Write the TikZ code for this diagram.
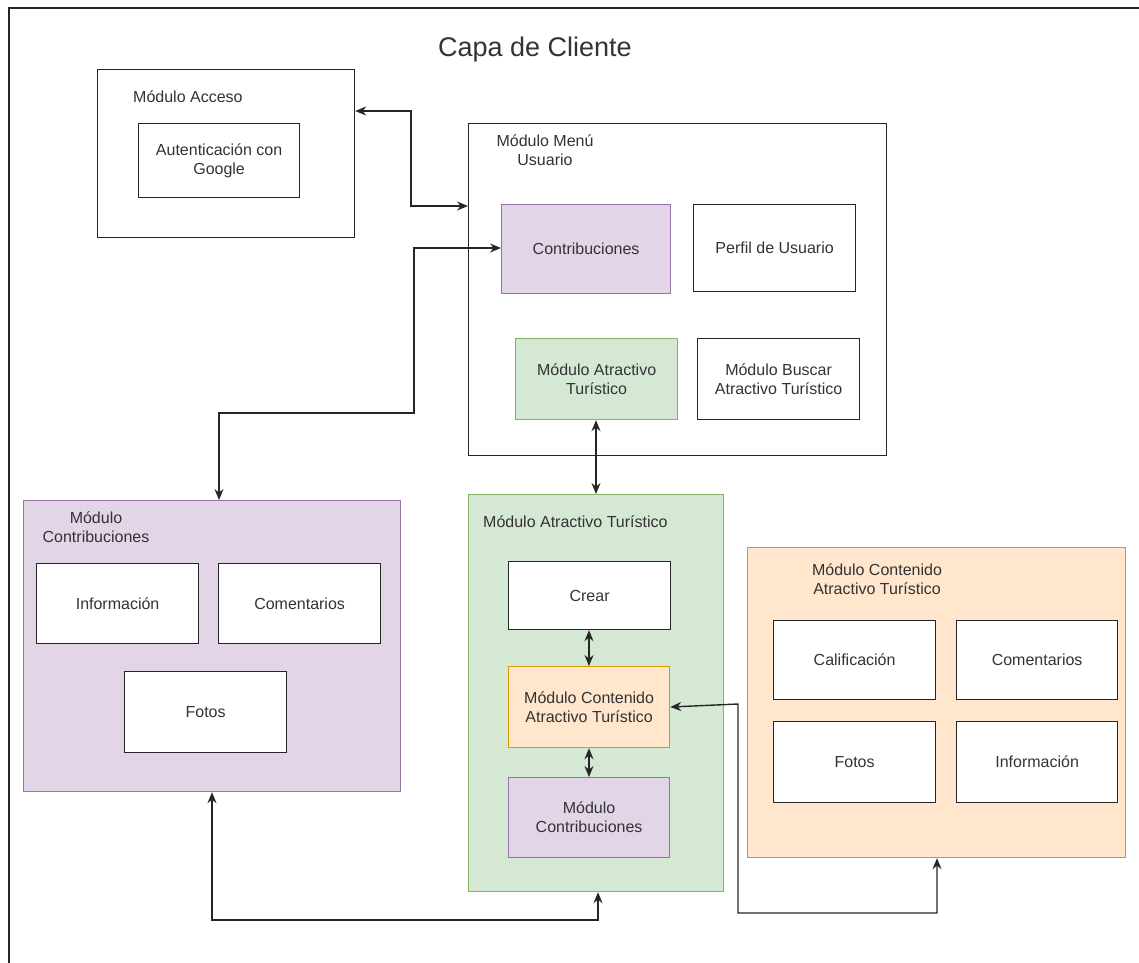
\documentclass[tikz,border=0pt]{standalone}
\usepackage{fontspec}
\setmainfont{Liberation Sans}
\usetikzlibrary{arrows.meta,positioning,calc}

\definecolor{txt}{HTML}{333333}
\definecolor{purfill}{HTML}{E1D5E7}
\definecolor{purline}{HTML}{9673A6}
\definecolor{grnfill}{HTML}{D5E8D4}
\definecolor{grnline}{HTML}{82B366}
\definecolor{orgfill}{HTML}{FFE6CC}
\definecolor{orgline}{HTML}{D79B00}

\tikzset{
  box/.style={draw=black!85, line width=1.2pt, fill=white, rectangle, inner sep=0pt,
    anchor=north west, align=center, text=txt,
    font=\fontsize{16}{19}\selectfont},
  purbox/.style={box, fill=purfill, draw=purline},
  grnbox/.style={box, fill=grnfill, draw=grnline},
  orgbox/.style={box, fill=orgfill, draw=orgline},
  wh/.style 2 args={minimum width=#1pt, minimum height=#2pt},
  lbl/.style={text=txt, inner sep=0pt, align=center, font=\fontsize{16}{19}\selectfont},
  link/.style={draw=black!85, line width=1.4pt,
    {Stealth[length=11pt,width=9pt]}-{Stealth[length=11pt,width=9pt]}},
}

\begin{document}
\begin{tikzpicture}[x=1pt,y=-1pt]
\useasboundingbox (0,0) rectangle (1139,962);

% page frame (only the top and left edges fall inside the page)
\draw[black!85, line width=1.2pt] (9,970) -- (9,8) -- (1150,8);

\node[text=txt, font=\fontsize{27}{31}\selectfont, inner sep=0pt] (title) at (535,50) {Capa de Cliente};

% access module
\node[box, wh={257}{168}] (acc) at (97,69) {};
\node[lbl, anchor=west] (accl) at (133,97) {Módulo Acceso};
\node[box, wh={161}{74}] (auth) at (138,123) {Autenticación con\\Google};

% user menu module
\node[box, wh={418}{332}] (menu) at (468,123) {};
\node[lbl] (menul) at (545,150) {Módulo Menú\\Usuario};
\node[purbox, wh={169}{89}] (contr) at (501,204) {Contribuciones};
\node[box, wh={162}{87}] (perfil) at (693,204) {Perfil de Usuario};
\node[grnbox, wh={162}{81}] (atr) at (515,338) {Módulo Atractivo\\Turístico};
\node[box, wh={162}{81}] (buscar) at (697,338) {Módulo Buscar\\Atractivo Turístico};

% contributions module
\node[purbox, wh={377}{291}] (mcontr) at (23,500) {};
\node[lbl] (mcontrl) at (96,527) {Módulo\\Contribuciones};
\node[box, wh={162}{80}] (info1) at (36,563) {Información};
\node[box, wh={162}{80}] (com1) at (218,563) {Comentarios};
\node[box, wh={162}{81}] (fotos1) at (124,671) {Fotos};

% tourist attraction module
\node[grnbox, wh={255}{397}] (matr) at (468,494) {};
\node[lbl, anchor=west] (matrl) at (483,522) {Módulo Atractivo Turístico};
\node[box, wh={162}{68}] (crear) at (508,561) {Crear};
\node[orgbox, wh={161}{81}] (cont) at (508,666) {Módulo Contenido\\Atractivo Turístico};
\node[purbox, wh={161}{80}] (contr2) at (508,777) {Módulo\\Contribuciones};

% attraction content module
\node[orgbox, wh={378}{310}] (mcont) at (747,547) {};
\node[lbl] (mcontl) at (877,579) {Módulo Contenido\\Atractivo Turístico};
\node[box, wh={162}{79}] (calif) at (773,620) {Calificación};
\node[box, wh={161}{79}] (com2) at (956,620) {Comentarios};
\node[box, wh={162}{81}] (fotos2) at (773,721) {Fotos};
\node[box, wh={161}{81}] (info2) at (956,721) {Información};

% connectors
\draw[link] (acc.east |- 0,111) -| (411,206) -- (menu.west |- 0,206);
\draw[link] (contr.west |- 0,248) -- (414,248) |- (219,413) -- (mcontr.north -| 219,0);
\draw[link] (atr.south -| 596,0) -- (matr.north -| 596,0);
\draw[link] (crear.south -| 589,0) -- (cont.north -| 589,0);
\draw[link] (cont.south -| 589,0) -- (contr2.north -| 589,0);
\draw[link] (cont.east |- 0,707) -- (738,704) |- (937,913) -- (mcont.south -| 937,0);
\draw[link] (mcontr.south -| 212,0) |- (598,920) -- (matr.south -| 598,0);
\end{tikzpicture}
\end{document}
